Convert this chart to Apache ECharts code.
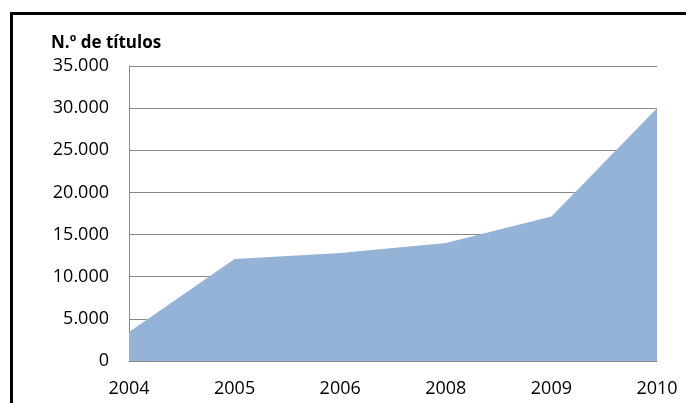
<!DOCTYPE html>
<html><head><meta charset="utf-8">
<script src="https://cdn.jsdelivr.net/npm/echarts@6/dist/echarts.min.js"></script>
<style>
html,body{margin:0;padding:0;background:#fff;}
#frame{position:absolute;left:10px;top:12px;width:690px;height:400px;border-left:3px solid #000;border-top:3px solid #000;}
#c{position:absolute;left:0;top:0;width:686px;height:403px;}
</style></head>
<body>
<div id="frame"></div>
<div id="c"></div>
<script>
const categories = ['2004','2005','2006','2008','2009','2010'];
const values = [3450, 12100, 12800, 14000, 17150, 30000];
const yTicks = {min:0, max:35000, interval:5000};
const title = 'N.º de títulos';

const chart = echarts.init(document.getElementById('c'), null, {renderer:'canvas'});
const fmt = v => v === 0 ? '0' : String(v).replace(/\B(?=(\d{3})+(?!\d))/g, '.');
chart.setOption({
  animation:false,
  title:{text:title, left:46, top:30, textStyle:{fontFamily:'Open Sans', fontSize:17, fontWeight:'bold', color:'#000'}},
  grid:{left:129, right:29, top:66, bottom:42, containLabel:false},
  xAxis:{type:'category', data:categories, boundaryGap:false,
    axisLine:{lineStyle:{color:'#888', width:1}},
    axisTick:{show:false},
    axisLabel:{fontFamily:'Open Sans', fontSize:18, color:'#000', margin:19, interval:0},
    splitLine:{show:false}},
  yAxis:{type:'value', min:yTicks.min, max:yTicks.max, interval:yTicks.interval,
    axisLine:{show:true, lineStyle:{color:'#888', width:1}},
    axisTick:{show:false},
    axisLabel:{fontFamily:'Open Sans', fontSize:18, color:'#000', margin:20, formatter:fmt},
    splitLine:{show:true, lineStyle:{color:'#888', width:1}}},
  series:[{type:'line', data:values, symbol:'none', lineStyle:{width:0},
    areaStyle:{color:'#95b3d7', opacity:1}, z:3}]
});
</script>
</body></html>
